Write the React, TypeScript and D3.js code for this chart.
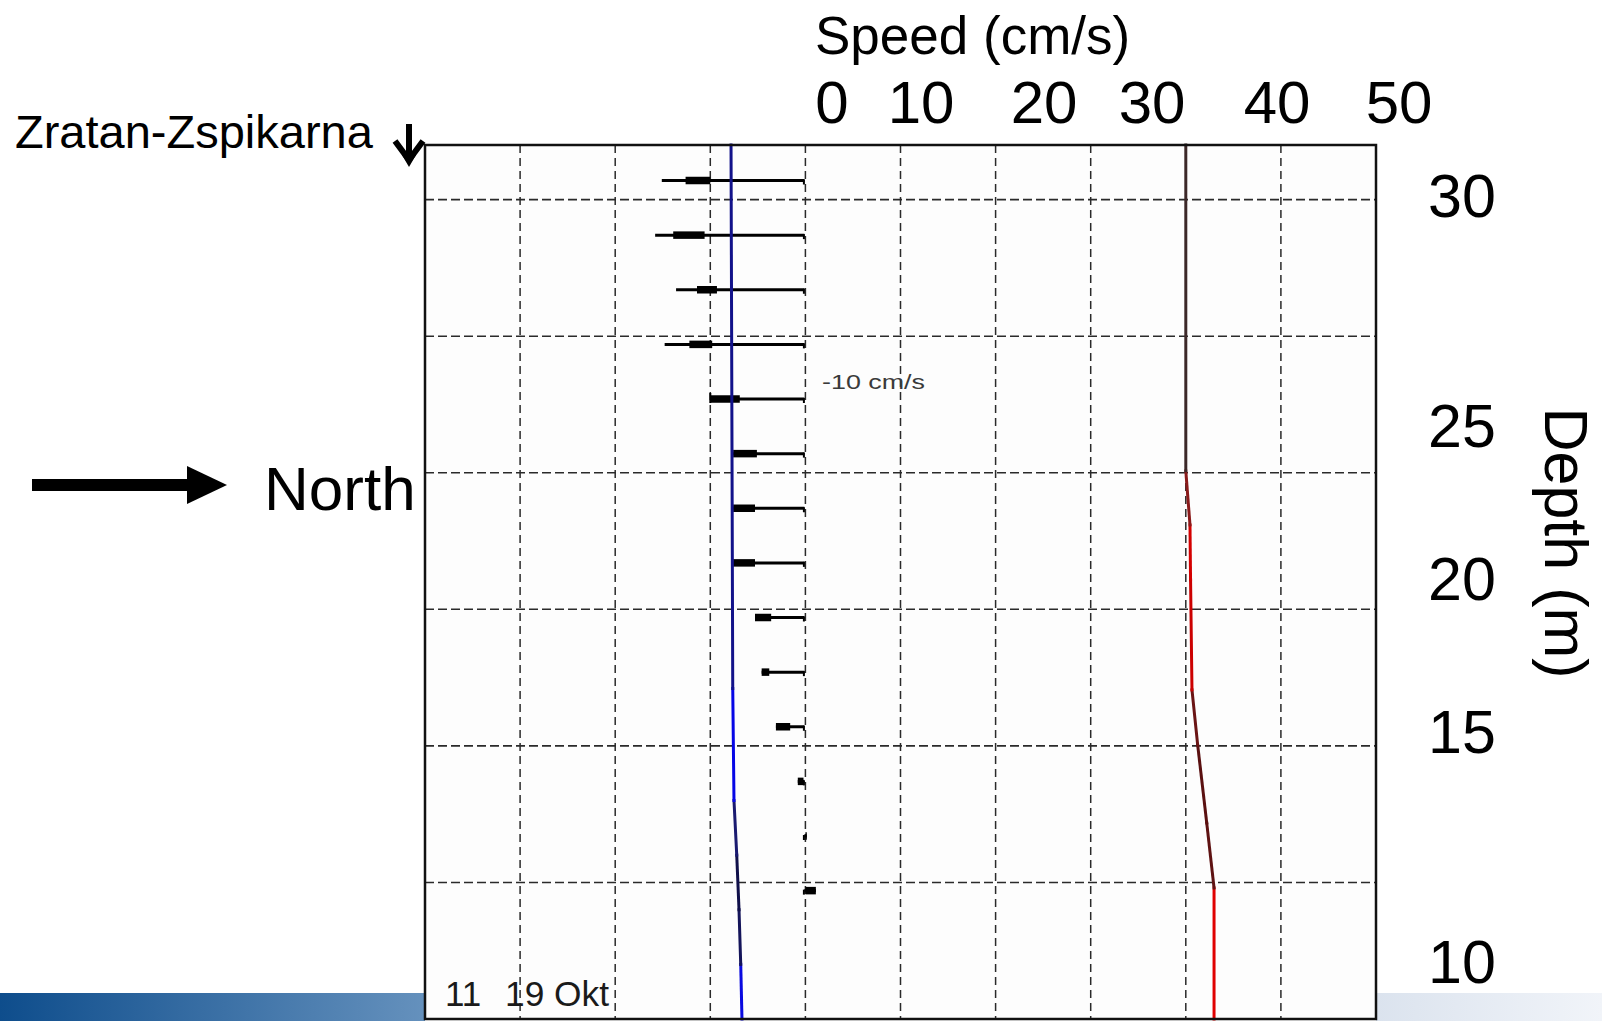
import React from "react";
import * as d3 from "d3";

// ---------- data ----------
const speedTickLabels = ["0", "10", "20", "30", "40", "50"];
const depthTickLabels = ["30", "25", "20", "15", "10"];

// stick plot (velocity per bin, cm/s, east-west component drawn horizontally)
const binHeight = [30.7, 28.7, 26.7, 24.7, 22.7, 20.7, 18.7, 16.7, 14.7, 12.7, 10.7, 8.7, 6.7, 4.7];
const stickTip = [-15.1, -15.8, -13.6, -14.8, -10.0, -7.6, -7.6, -7.6, -5.3, -4.6, -3.1, -0.8, 0.15, 1.1];
const stickBodyOuter = [-12.6, -13.9, -11.4, -12.2, -10.0, -7.6, -7.6, -7.6, -5.3, -4.6, -3.1, -0.8, 0, 0];
const stickBodyInner = [-10.0, -10.6, -9.3, -9.8, -6.9, -5.1, -5.3, -5.3, -3.6, -3.8, -1.6, -0.2, 0.15, 1.1];

// blue profile
const blueDepth = [0, 2, 4, 6, 8, 12.1, 32];
const blueValue = [-6.67, -6.8, -6.98, -7.22, -7.51, -7.64, -7.82];
const blueSegColor = ["#0a0ae0", "#14145a", "#10104a", "#1a1a70", "#0606e6", "#12128a"];

// red profile
const redDepth = [0, 4.8, 7.18, 10.03, 12.05, 16.08, 18.09, 20.07, 32];
const redValue = [42.97, 42.97, 42.2, 41.25, 40.65, 40.5, 40.44, 40.0, 40.0];
const redSegColor = ["#e00000", "#5e1212", "#5a1010", "#6a1414", "#cc0000", "#d40000", "#8a1a1a", "#3c2828"];

// ---------- layout ----------
const W = 1602;
const H = 1021;
const plotLeft = 425;
const plotRight = 1376;
const plotTop = 145;
const plotBottom = 1019;
const speedLabelX = [832, 921, 1044, 1152, 1277, 1399];
const depthLabelY = [217, 447, 600, 753, 983];
const FONT = "'Liberation Sans', Arial, Helvetica, sans-serif";

export default function App() {
  const x = d3.scaleLinear().domain([-40, 60]).range([plotLeft, plotRight]);
  const y = d3.scaleLinear().domain([0, 32]).range([plotBottom, plotTop]);

  const xGrid = d3.range(-30, 60, 10);
  const yGrid = d3.range(5, 31, 5);

  const line = d3
    .line<[number, number]>()
    .x((d) => x(d[0]))
    .y((d) => y(d[1]));

  const blueSegs = blueSegColor.map((c, i) => ({
    c,
    d: line([
      [blueValue[i], blueDepth[i]],
      [blueValue[i + 1], blueDepth[i + 1]],
    ]) as string,
  }));
  const redSegs = redSegColor.map((c, i) => ({
    c,
    d: line([
      [redValue[i], redDepth[i]],
      [redValue[i + 1], redDepth[i + 1]],
    ]) as string,
  }));

  return (
    <svg
      width={W}
      height={H}
      style={{ position: "absolute", left: 0, top: 0, background: "#ffffff" }}
      fontFamily={FONT}
    >
      <defs>
        <linearGradient id="barL" x1="0" x2="1" y1="0" y2="0">
          <stop offset="0" stopColor="#0e4d8c" />
          <stop offset="1" stopColor="#6591bd" />
        </linearGradient>
        <linearGradient id="barR" x1="0" x2="1" y1="0" y2="0">
          <stop offset="0" stopColor="#dbe3ee" />
          <stop offset="1" stopColor="#f1f4f9" />
        </linearGradient>
      </defs>

      {/* bottom decorative bars */}
      <rect x={0} y={993} width={plotLeft} height={H - 993} fill="url(#barL)" />
      <rect x={plotRight} y={993} width={W - plotRight} height={H - 993} fill="url(#barR)" />

      {/* plot background */}
      <rect x={plotLeft} y={plotTop} width={plotRight - plotLeft} height={plotBottom - plotTop} fill="#fdfdfd" />

      {/* grid */}
      {xGrid.map((v) => (
        <line
          key={"gx" + v}
          x1={x(v)}
          x2={x(v)}
          y1={plotTop}
          y2={plotBottom}
          stroke="#2a2a2a"
          strokeWidth={1.5}
          strokeDasharray="8,5"
        />
      ))}
      {yGrid.map((v) => (
        <line
          key={"gy" + v}
          x1={plotLeft}
          x2={plotRight}
          y1={y(v)}
          y2={y(v)}
          stroke="#2a2a2a"
          strokeWidth={1.6}
          strokeDasharray="9,4"
        />
      ))}

      {/* sticks */}
      {binHeight.map((h, i) => {
        const yy = y(h);
        return (
          <g key={"s" + i}>
            <line x1={x(stickTip[i])} x2={x(0) - 1} y1={yy} y2={yy} stroke="#000" strokeWidth={3} />
            <line
              x1={x(stickBodyOuter[i])}
              x2={x(stickBodyInner[i])}
              y1={yy}
              y2={yy}
              stroke="#000"
              strokeWidth={7.5}
            />
            <line x1={x(0) - 1.5} x2={x(0) - 1.5} y1={yy - 1} y2={yy + 4} stroke="#000" strokeWidth={2} />
          </g>
        );
      })}
      <line
        x1={x(stickTip[4])}
        x2={x(stickTip[4])}
        y1={y(binHeight[4]) - 6}
        y2={y(binHeight[4]) + 4}
        stroke="#000"
        strokeWidth={2}
      />

      {/* profiles */}
      {blueSegs.map((s, i) => (
        <path key={"b" + i} d={s.d} stroke={s.c} strokeWidth={3} fill="none" strokeLinecap="square" />
      ))}
      {redSegs.map((s, i) => (
        <path key={"r" + i} d={s.d} stroke={s.c} strokeWidth={3} fill="none" strokeLinecap="square" />
      ))}

      {/* frame */}
      <rect
        x={plotLeft}
        y={plotTop}
        width={plotRight - plotLeft}
        height={plotBottom - plotTop}
        fill="none"
        stroke="#111"
        strokeWidth={2.5}
      />

      {/* in-plot texts */}
      <text x={822} y={389} fontSize={21} fill="#3a3a3a" textLength={103} lengthAdjust="spacingAndGlyphs">
        -10 cm/s
      </text>
      <text x={445} y={1006} fontSize={35} fill="#1a1a1a">
        11
      </text>
      <text x={505} y={1006} fontSize={35} fill="#1a1a1a" textLength={104} lengthAdjust="spacingAndGlyphs">
        19 Okt
      </text>

      {/* top axis annotation */}
      <text x={815} y={54} fontSize={53} fill="#000">
        Speed (cm/s)
      </text>
      {speedTickLabels.map((t, i) => (
        <text key={"st" + i} x={speedLabelX[i]} y={123} fontSize={60} textAnchor="middle" fill="#000">
          {t}
        </text>
      ))}

      {/* right depth annotation */}
      {depthTickLabels.map((t, i) => (
        <text key={"dt" + i} x={1428} y={depthLabelY[i]} fontSize={61} fill="#000">
          {t}
        </text>
      ))}
      <text
        transform={`translate(1545, 543) rotate(90)`}
        fontSize={61}
        textAnchor="middle"
        fill="#000"
      >
        Depth (m)
      </text>

      {/* station label with down arrow */}
      <text x={15} y={148} fontSize={47} fill="#000">
        Zratan-Zspikarna
      </text>
      <line x1={409} x2={409} y1={124} y2={156} stroke="#000" strokeWidth={6} />
      <polyline
        points="395,141 409,160 423,141"
        fill="none"
        stroke="#000"
        strokeWidth={6}
        strokeLinejoin="miter"
      />
      <polygon points="402,155 416,155 409,167" fill="#000" />

      {/* north arrow */}
      <rect x={32} y={479} width={157} height={12} fill="#000" />
      <polygon points="187,466 227,485 187,504" fill="#000" />
      <text x={264} y={510} fontSize={62} fill="#000">
        North
      </text>
    </svg>
  );
}
